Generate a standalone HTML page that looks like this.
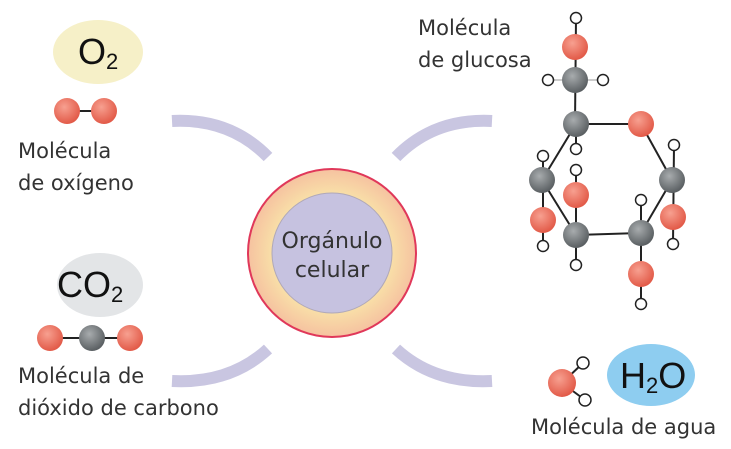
<!DOCTYPE html>
<html><head><style>
body{margin:0;background:#fff}
svg{display:block}
text{font-family:"DejaVu Sans","Liberation Sans",sans-serif;fill:#333}
.f{font-family:"Liberation Sans",sans-serif;fill:#111}
</style></head><body>
<svg width="731" height="449" viewBox="0 0 731 449">
<defs>
<radialGradient id="r" cx="40%" cy="35%" r="65%"><stop offset="0" stop-color="#f7a090"/><stop offset="1" stop-color="#e25a48"/></radialGradient>
<radialGradient id="g" cx="40%" cy="35%" r="65%"><stop offset="0" stop-color="#a8acae"/><stop offset="1" stop-color="#5a5f62"/></radialGradient>
<radialGradient id="ring" cx="50%" cy="50%" r="50%"><stop offset="0.7" stop-color="#f8e0a8"/><stop offset="1" stop-color="#f6c2a0"/></radialGradient>
</defs>
<g fill="none" stroke="#c9c6e1" stroke-width="12">
<path d="M172,121 Q230,118 268,157"/>
<path d="M492,121 Q434,118 396,157"/>
<path d="M172,381 Q230,384 268,349"/>
<path d="M492,381 Q434,384 396,349"/>
</g>
<circle cx="332" cy="253" r="84" fill="url(#ring)" stroke="#e0385a" stroke-width="2"/>
<circle cx="332" cy="253" r="60" fill="#c6c2e0" stroke="#b0a8b8" stroke-width="1"/>
<text x="332" y="248" text-anchor="middle" font-size="22">Orgánulo</text>
<text x="332" y="277" text-anchor="middle" font-size="22">celular</text>

<ellipse cx="98" cy="52" rx="45" ry="32" fill="#f6f0c8"/>
<text class="f" x="78" y="64" font-size="36">O<tspan font-size="22" dy="5">2</tspan></text>
<line x1="67" y1="111" x2="104" y2="111" stroke="#222" stroke-width="2"/>
<circle cx="67" cy="111" r="13" fill="url(#r)"/><circle cx="104" cy="111" r="13" fill="url(#r)"/>
<text x="18" y="158" font-size="21">Molécula</text>
<text x="18" y="190" font-size="21">de oxígeno</text>

<ellipse cx="100" cy="285" rx="43" ry="32" fill="#e3e5e7"/>
<text class="f" x="57" y="297" font-size="36">CO<tspan font-size="22" dy="5">2</tspan></text>
<line x1="50" y1="338" x2="130" y2="338" stroke="#222" stroke-width="2"/>
<circle cx="50" cy="338" r="13" fill="url(#r)"/><circle cx="92" cy="338" r="13" fill="url(#g)"/><circle cx="130" cy="338" r="13" fill="url(#r)"/>
<text x="18" y="383" font-size="21">Molécula de</text>
<text x="18" y="415" font-size="21">dióxido de carbono</text>

<ellipse cx="651" cy="375" rx="44" ry="31" fill="#8ecdf0"/>
<text class="f" x="620" y="388" font-size="36">H<tspan font-size="22" dy="5">2</tspan><tspan dy="-5">O</tspan></text>
<g stroke="#222" stroke-width="2"><line x1="562" y1="383" x2="583" y2="363"/><line x1="562" y1="383" x2="585" y2="400"/></g>
<circle cx="583" cy="363" r="6" fill="#fff" stroke="#222" stroke-width="1.5"/>
<circle cx="585" cy="400" r="6" fill="#fff" stroke="#222" stroke-width="1.5"/>
<circle cx="562" cy="383" r="14" fill="url(#r)"/>
<text x="531" y="434" font-size="21">Molécula de agua</text>

<text x="418" y="35" font-size="21">Molécula</text>
<text x="418" y="67" font-size="21">de glucosa</text>
<g stroke="#222" stroke-width="2">
<line x1="576" y1="18" x2="575" y2="124"/>
<line x1="548" y1="80" x2="603" y2="80" stroke="#ccc"/>
<line x1="576" y1="124" x2="641" y2="124"/>
<line x1="576" y1="124" x2="576" y2="149"/>
<line x1="576" y1="124" x2="542" y2="180"/>
<line x1="543" y1="156" x2="543" y2="246"/>
<line x1="542" y1="180" x2="576" y2="235"/>
<line x1="576" y1="170" x2="576" y2="265"/>
<line x1="576" y1="235" x2="641" y2="233"/>
<line x1="641" y1="200" x2="641" y2="304"/>
<line x1="641" y1="233" x2="672" y2="180"/>
<line x1="641" y1="124" x2="672" y2="180"/>
<line x1="674" y1="145" x2="673" y2="244"/>
</g>
<g fill="#fff" stroke="#222" stroke-width="1.5">
<circle cx="576" cy="18" r="5.5"/><circle cx="548" cy="80" r="5.5"/><circle cx="603" cy="80" r="5.5"/>
<circle cx="576" cy="149" r="5.5"/><circle cx="543" cy="156" r="5.5"/><circle cx="576" cy="170" r="5.5"/>
<circle cx="674" cy="145" r="5.5"/><circle cx="543" cy="246" r="5.5"/><circle cx="673" cy="244" r="5.5"/>
<circle cx="576" cy="265" r="5.5"/><circle cx="641" cy="200" r="5.5"/><circle cx="641" cy="304" r="5.5"/>
</g>
<g>
<circle cx="575" cy="47" r="13" fill="url(#r)"/>
<circle cx="575" cy="80" r="13" fill="url(#g)"/>
<circle cx="576" cy="124" r="13" fill="url(#g)"/>
<circle cx="641" cy="124" r="13" fill="url(#r)"/>
<circle cx="542" cy="180" r="13" fill="url(#g)"/>
<circle cx="576" cy="195" r="13" fill="url(#r)"/>
<circle cx="672" cy="180" r="13" fill="url(#g)"/>
<circle cx="543" cy="220" r="13" fill="url(#r)"/>
<circle cx="673" cy="217" r="13" fill="url(#r)"/>
<circle cx="576" cy="235" r="13" fill="url(#g)"/>
<circle cx="641" cy="233" r="13" fill="url(#g)"/>
<circle cx="641" cy="274" r="13" fill="url(#r)"/>
</g>
</svg>
</body></html>
